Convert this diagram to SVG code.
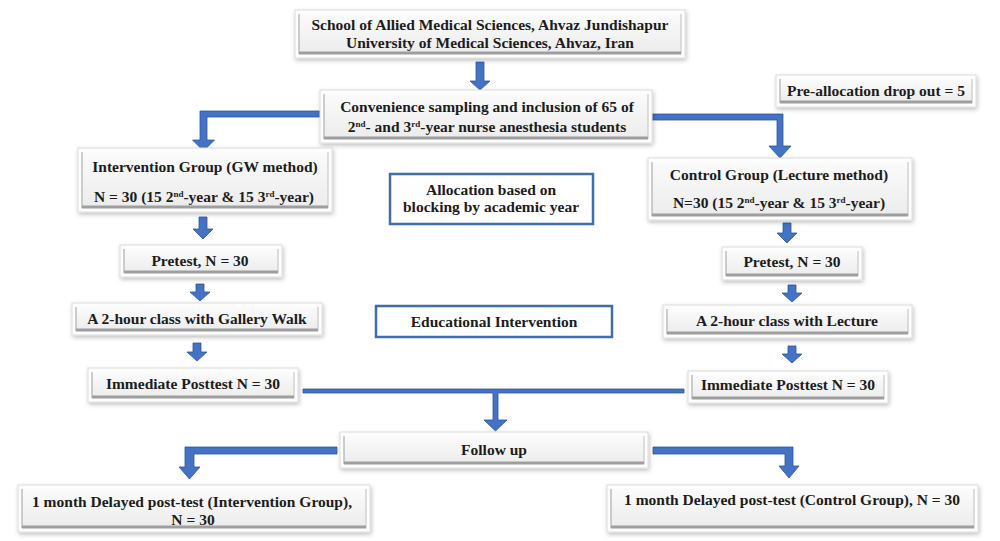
<svg xmlns="http://www.w3.org/2000/svg" width="1000" height="541" viewBox="0 0 1000 541">
<defs>
<linearGradient id="g" x1="0" y1="0" x2="0" y2="1">
<stop offset="0" stop-color="#fbfbfb"/>
<stop offset="1" stop-color="#ececec"/>
</linearGradient>
<filter id="sh" x="-10%" y="-20%" width="120%" height="150%">
<feDropShadow dx="1" dy="2" stdDeviation="2" flood-color="#000" flood-opacity="0.25"/>
</filter>
</defs>
<style>
.o{fill:#fdfdfd;stroke:#dcdcdc;stroke-width:1;filter:url(#sh)}
.i{fill:url(#g);stroke:none}
.bb{stroke:#9e9e9e;stroke-width:3}
.bl{stroke:#bcbcbc;stroke-width:1.5}
.br{stroke:#d2d2d2;stroke-width:1.5}
.bx{fill:#ffffff;stroke:#3f6ea8;stroke-width:2.5}
text{font-family:"Liberation Serif","Times New Roman",serif;font-weight:bold;font-size:15.5px;fill:#1c1c1c;text-anchor:middle}
.s{font-size:9px}
.arr{fill:#4472c4;stroke:#2f5597;stroke-width:0.8}
</style>

<g id="connectors">
<polygon class="arr" points="476,62 484,62 484,81 490,81 480,90 470,81 476,81"/>
<polygon class="arr" points="320,111 200,111 200,140 192.5,140 203.5,151 214.5,140 207,140 207,117 320,117"/>
<polygon class="arr" points="652,114 783,114 783,146 791,146 780,158 769,146 777,146 777,120 652,120"/>
<polygon class="arr" points="199,217 207,217 207,229 213,229 203,239 193,229 199,229"/>
<polygon class="arr" points="196,284 204,284 204,292 210,292 200,301 190,292 196,292"/>
<polygon class="arr" points="193,343 201,343 201,352 207,352 197,361 187,352 193,352"/>
<polygon class="arr" points="783,223 791,223 791,233 797,233 787,243 777,233 783,233"/>
<polygon class="arr" points="788,285 796,285 796,293 802,293 792,302 782,293 788,293"/>
<polygon class="arr" points="788,346 796,346 796,354 802,354 792,363 782,354 788,354"/>
<polygon class="arr" points="303,389 684,389 684,393 498,393 498,420 507,420 495.5,431 484,420 493,420 493,393 303,393"/>
<polygon class="arr" points="337,447 185,447 185,467 179,467 189.5,479 200,467 194,467 194,454 337,454"/>
<polygon class="arr" points="653,447 793,447 793,466 799,466 789,478 779,466 785,466 785,454 653,454"/>
</g>

<g id="school">
<rect class="o" x="295" y="10" width="390" height="48"/>
<rect class="i" x="299" y="14" width="382" height="39"/>
<line class="bl" x1="299" y1="14" x2="299" y2="54"/><line class="br" x1="681" y1="14" x2="681" y2="54"/>
<line class="bb" x1="299" y1="53" x2="681" y2="53"/>
<text x="490" y="30">School of Allied Medical Sciences, Ahvaz Jundishapur</text>
<text x="490" y="48">University of Medical Sciences, Ahvaz, Iran</text>
</g>

<g id="sampling">
<rect class="o" x="320" y="90" width="332" height="53"/>
<rect class="i" x="324" y="94" width="324" height="44"/>
<line class="bl" x1="324" y1="94" x2="324" y2="139"/><line class="br" x1="648" y1="94" x2="648" y2="139"/>
<line class="bb" x1="324" y1="138" x2="648" y2="138"/>
<text x="487" y="112">Convenience sampling and inclusion of 65 of</text>
<text x="487" y="132">2<tspan class="s" dy="-5">nd</tspan><tspan dy="5">- and 3</tspan><tspan class="s" dy="-5">rd</tspan><tspan dy="5">-year nurse anesthesia students</tspan></text>
</g>

<g id="dropout">
<rect class="o" x="776" y="75" width="200" height="32"/>
<rect class="i" x="780" y="79" width="192" height="24"/>
<line class="bl" x1="780" y1="79" x2="780" y2="103"/><line class="br" x1="972" y1="79" x2="972" y2="103"/>
<line class="bb" x1="780" y1="102" x2="972" y2="102"/>
<text x="876" y="96">Pre-allocation drop out = 5</text>
</g>

<g id="intervention">
<rect class="o" x="78" y="148" width="254" height="64"/>
<rect class="i" x="82" y="152" width="246" height="55"/>
<line class="bl" x1="82" y1="152" x2="82" y2="208"/><line class="br" x1="328" y1="152" x2="328" y2="208"/>
<line class="bb" x1="82" y1="207" x2="328" y2="207"/>
<text x="205" y="172">Intervention Group (GW method)</text>
<text x="204" y="202">N = 30 (15 2<tspan class="s" dy="-5">nd</tspan><tspan dy="5">-year &amp; 15 3</tspan><tspan class="s" dy="-5">rd</tspan><tspan dy="5">-year)</tspan></text>
</g>

<g id="control">
<rect class="o" x="648" y="158" width="264" height="62"/>
<rect class="i" x="652" y="162" width="256" height="53"/>
<line class="bl" x1="652" y1="162" x2="652" y2="216"/><line class="br" x1="908" y1="162" x2="908" y2="216"/>
<line class="bb" x1="652" y1="215" x2="908" y2="215"/>
<text x="779" y="180">Control Group (Lecture method)</text>
<text x="779" y="208">N=30 (15 2<tspan class="s" dy="-5">nd</tspan><tspan dy="5">-year &amp; 15 3</tspan><tspan class="s" dy="-5">rd</tspan><tspan dy="5">-year)</tspan></text>
</g>

<g id="allocation">
<rect class="bx" x="390" y="174" width="203" height="50"/>
<text x="491" y="195">Allocation based on</text>
<text x="491" y="212">blocking by academic year</text>
</g>

<g id="educational">
<rect class="bx" x="376" y="306" width="236" height="31"/>
<text x="494" y="327">Educational Intervention</text>
</g>

<g id="pretest-left">
<rect class="o" x="120" y="245" width="162" height="32"/>
<rect class="i" x="124" y="249" width="154" height="24"/>
<line class="bl" x1="124" y1="249" x2="124" y2="273"/><line class="br" x1="278" y1="249" x2="278" y2="273"/>
<line class="bb" x1="124" y1="272" x2="278" y2="272"/>
<text x="200" y="266">Pretest, N = 30</text>
</g>

<g id="gallery">
<rect class="o" x="72" y="303" width="250" height="32"/>
<rect class="i" x="76" y="307" width="242" height="24"/>
<line class="bl" x1="76" y1="307" x2="76" y2="331"/><line class="br" x1="318" y1="307" x2="318" y2="331"/>
<line class="bb" x1="76" y1="330" x2="318" y2="330"/>
<text x="197" y="324">A 2-hour class with Gallery Walk</text>
</g>

<g id="posttest-left">
<rect class="o" x="88" y="368" width="210" height="34"/>
<rect class="i" x="92" y="372" width="202" height="26"/>
<line class="bl" x1="92" y1="372" x2="92" y2="398"/><line class="br" x1="294" y1="372" x2="294" y2="398"/>
<line class="bb" x1="92" y1="397" x2="294" y2="397"/>
<text x="193" y="389">Immediate Posttest N = 30</text>
</g>

<g id="pretest-right">
<rect class="o" x="722" y="247" width="140" height="33"/>
<rect class="i" x="726" y="251" width="132" height="25"/>
<line class="bl" x1="726" y1="251" x2="726" y2="276"/><line class="br" x1="858" y1="251" x2="858" y2="276"/>
<line class="bb" x1="726" y1="275" x2="858" y2="275"/>
<text x="792" y="267">Pretest, N = 30</text>
</g>

<g id="lecture">
<rect class="o" x="663" y="305" width="249" height="33"/>
<rect class="i" x="667" y="309" width="241" height="25"/>
<line class="bl" x1="667" y1="309" x2="667" y2="334"/><line class="br" x1="908" y1="309" x2="908" y2="334"/>
<line class="bb" x1="667" y1="333" x2="908" y2="333"/>
<text x="787" y="326">A 2-hour class with Lecture</text>
</g>

<g id="posttest-right">
<rect class="o" x="688" y="371" width="200" height="32"/>
<rect class="i" x="692" y="375" width="192" height="24"/>
<line class="bl" x1="692" y1="375" x2="692" y2="399"/><line class="br" x1="884" y1="375" x2="884" y2="399"/>
<line class="bb" x1="692" y1="398" x2="884" y2="398"/>
<text x="788" y="390">Immediate Posttest N = 30</text>
</g>

<g id="followup">
<rect class="o" x="340" y="432" width="308" height="36"/>
<rect class="i" x="344" y="436" width="300" height="28"/>
<line class="bl" x1="344" y1="436" x2="344" y2="464"/><line class="br" x1="644" y1="436" x2="644" y2="464"/>
<line class="bb" x1="344" y1="463" x2="644" y2="463"/>
<text x="494" y="455">Follow up</text>
</g>

<g id="delayed-left">
<rect class="o" x="18" y="485" width="352" height="47"/>
<rect class="i" x="22" y="489" width="344" height="38"/>
<line class="bl" x1="22" y1="489" x2="22" y2="528"/><line class="br" x1="366" y1="489" x2="366" y2="528"/>
<line class="bb" x1="22" y1="527" x2="366" y2="527"/>
<text x="192" y="507">1 month Delayed post-test (Intervention Group),</text>
<text x="193" y="525">N = 30</text>
</g>

<g id="delayed-right">
<rect class="o" x="607" y="485" width="371" height="47"/>
<rect class="i" x="611" y="489" width="363" height="38"/>
<line class="bl" x1="611" y1="489" x2="611" y2="528"/><line class="br" x1="974" y1="489" x2="974" y2="528"/>
<line class="bb" x1="611" y1="527" x2="974" y2="527"/>
<text x="792" y="505">1 month Delayed post-test (Control Group), N = 30</text>
</g>
</svg>
